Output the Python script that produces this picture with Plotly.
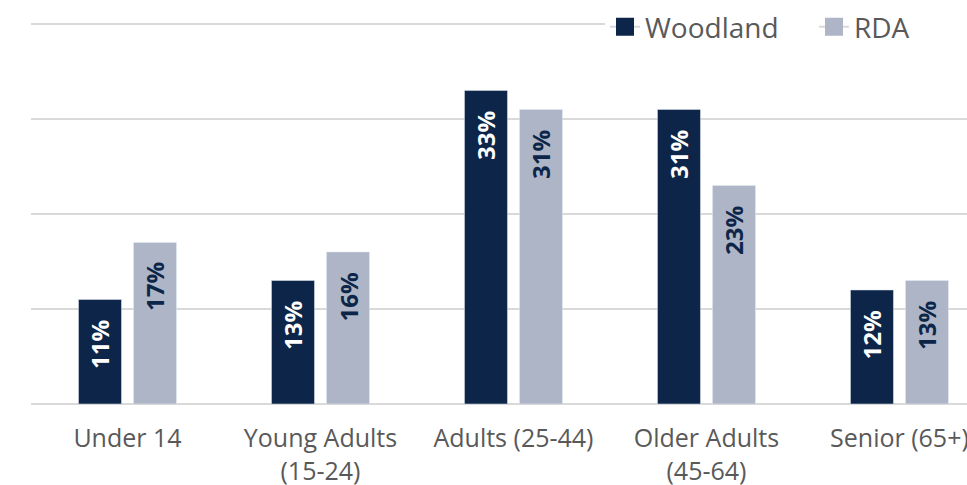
import plotly.graph_objects as go

# Age-group share of population, Woodland vs RDA (percent)
categories = ["Under 14", "Young Adults<br>(15-24)", "Adults (25-44)", "Older Adults<br>(45-64)", "Senior (65+)"]
woodland = [11, 13, 33, 31, 12]
rda = [17, 16, 31, 23, 13]
y_ticks = [0, 10, 20, 30, 40]

NAVY = "#0C2548"
SLATE = "#ADB5C7"
GRID = "#D9D9D9"
TEXT = "#595959"
FONT = "Open Sans"

fig = go.Figure()
fig.add_trace(go.Bar(x=categories, y=woodland, name="Woodland", marker_color=NAVY,
                     showlegend=False, hoverinfo="skip"))
fig.add_trace(go.Bar(x=categories, y=rda, name="RDA", marker_color=SLATE,
                     showlegend=False, hoverinfo="skip"))

# legend entries: square swatch over a thin line
for name, col in [("Woodland", NAVY), ("RDA", SLATE)]:
    fig.add_trace(go.Scatter(x=[None], y=[None], name=name, mode="lines+markers",
                             line=dict(color=GRID, width=2),
                             marker=dict(symbol="square", size=16, color=col,
                                         line=dict(color=col, width=2))))

# vertical value labels just inside the top of each bar
half = 0.1425
annotations = []
for i, (w, r) in enumerate(zip(woodland, rda)):
    for x, v, col in [(i - half, w, "white"), (i + half, r, NAVY)]:
        annotations.append(dict(x=x, y=v, xref="x", yref="y", text=f"{v}%",
                                textangle=-90, showarrow=False, yanchor="top",
                                xanchor="center", yshift=-18,
                                font=dict(family=FONT, size=24, color=col, weight="bold")))

fig.update_layout(
    width=967, height=485,
    margin=dict(l=31, r=0, t=22, b=81, autoexpand=False),
    paper_bgcolor="white", plot_bgcolor="white",
    barmode="group", bargap=0.43, bargroupgap=0.218,
    font=dict(family=FONT, color=TEXT),
    annotations=annotations,
    legend=dict(orientation="h", xref="container", yref="container",
                x=605 / 967, y=1 - 2 / 485, xanchor="left", yanchor="top",
                bgcolor="white", font=dict(size=28, color=TEXT, family=FONT),
                entrywidth=164, entrywidthmode="pixels", traceorder="normal"),
)
fig.update_xaxes(range=[-0.5, 4.35], showgrid=False, showline=False, ticks="",
                 ticklabelstandoff=17,
                 tickfont=dict(size=25, color=TEXT, family=FONT), fixedrange=True)
fig.update_yaxes(range=[0, 40.2], tickvals=y_ticks, showticklabels=False,
                 showgrid=True, gridcolor=GRID, gridwidth=2,
                 zeroline=True, zerolinecolor=GRID, zerolinewidth=2, fixedrange=True)

fig.write_html("out.html")
